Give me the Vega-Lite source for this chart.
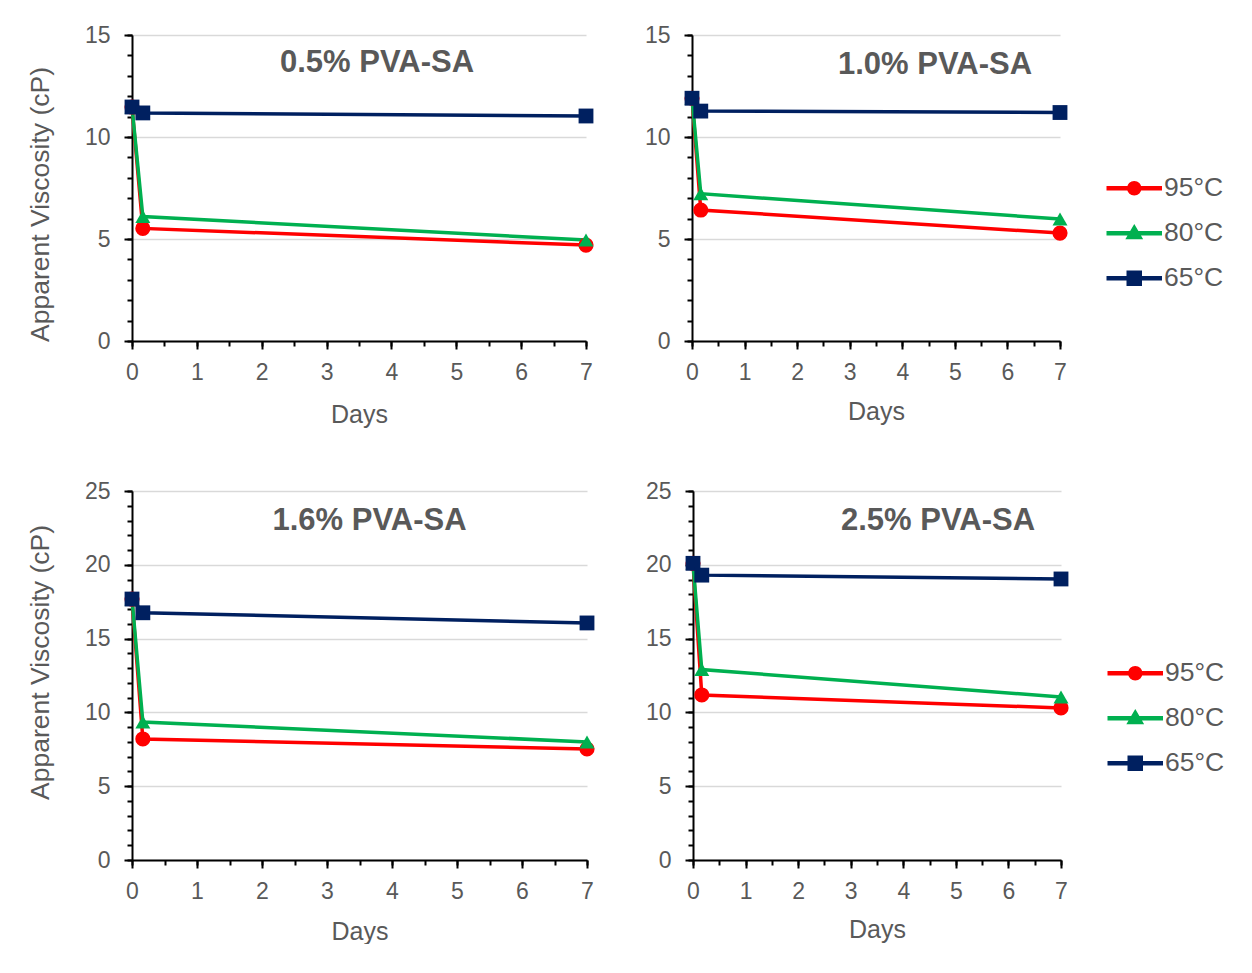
{
  "$schema": "https://vega.github.io/schema/vega-lite/v6.json",
  "padding": {"left": 27, "top": 24, "right": 0, "bottom": 0},
  "background": "white",
  "config": {
    "font": "Liberation Sans",
    "view": {"stroke": null},
    "axis": {
      "labelFont": "Liberation Sans", "titleFont": "Liberation Sans",
      "labelColor": "#595959", "titleColor": "#595959",
      "labelFontSize": 23, "titleFontSize": 25, "titleFontWeight": "normal",
      "domainColor": "#000000", "tickColor": "#000000",
      "domainWidth": 2, "tickWidth": 2, "labelFlush": false,
      "gridColor": "#d9d9d9", "gridWidth": 1.5
    },
    "title": {"font": "Liberation Sans", "fontSize": 31, "fontWeight": "bold", "color": "#595959", "anchor": "middle"}
  },
  "data": {"values": [
    {"panel": "A", "temp": "95°C", "day": 0, "visc": 11.47},
    {"panel": "A", "temp": "95°C", "day": 0.167, "visc": 5.52},
    {"panel": "A", "temp": "95°C", "day": 7, "visc": 4.70},
    {"panel": "A", "temp": "80°C", "day": 0, "visc": 11.47},
    {"panel": "A", "temp": "80°C", "day": 0.167, "visc": 6.1},
    {"panel": "A", "temp": "80°C", "day": 7, "visc": 4.95},
    {"panel": "A", "temp": "65°C", "day": 0, "visc": 11.47},
    {"panel": "A", "temp": "65°C", "day": 0.167, "visc": 11.18},
    {"panel": "A", "temp": "65°C", "day": 7, "visc": 11.03},
    {"panel": "B", "temp": "95°C", "day": 0, "visc": 11.9},
    {"panel": "B", "temp": "95°C", "day": 0.167, "visc": 6.42},
    {"panel": "B", "temp": "95°C", "day": 7, "visc": 5.29},
    {"panel": "B", "temp": "80°C", "day": 0, "visc": 11.9},
    {"panel": "B", "temp": "80°C", "day": 0.167, "visc": 7.22},
    {"panel": "B", "temp": "80°C", "day": 7, "visc": 5.98},
    {"panel": "B", "temp": "65°C", "day": 0, "visc": 11.9},
    {"panel": "B", "temp": "65°C", "day": 0.167, "visc": 11.27},
    {"panel": "B", "temp": "65°C", "day": 7, "visc": 11.2},
    {"panel": "C", "temp": "95°C", "day": 0, "visc": 17.68},
    {"panel": "C", "temp": "95°C", "day": 0.167, "visc": 8.2},
    {"panel": "C", "temp": "95°C", "day": 7, "visc": 7.52},
    {"panel": "C", "temp": "80°C", "day": 0, "visc": 17.68},
    {"panel": "C", "temp": "80°C", "day": 0.167, "visc": 9.35},
    {"panel": "C", "temp": "80°C", "day": 7, "visc": 8.0},
    {"panel": "C", "temp": "65°C", "day": 0, "visc": 17.68},
    {"panel": "C", "temp": "65°C", "day": 0.167, "visc": 16.75},
    {"panel": "C", "temp": "65°C", "day": 7, "visc": 16.06},
    {"panel": "D", "temp": "95°C", "day": 0, "visc": 20.1},
    {"panel": "D", "temp": "95°C", "day": 0.167, "visc": 11.18},
    {"panel": "D", "temp": "95°C", "day": 7, "visc": 10.3},
    {"panel": "D", "temp": "80°C", "day": 0, "visc": 20.1},
    {"panel": "D", "temp": "80°C", "day": 0.167, "visc": 12.9},
    {"panel": "D", "temp": "80°C", "day": 7, "visc": 11.04},
    {"panel": "D", "temp": "65°C", "day": 0, "visc": 20.1},
    {"panel": "D", "temp": "65°C", "day": 0.167, "visc": 19.3},
    {"panel": "D", "temp": "65°C", "day": 7, "visc": 19.04}
  ]},
  "spacing": 53,
  "resolve": {"scale": {"color": "independent", "shape": "independent", "size": "independent", "x": "independent", "y": "independent"}, "legend": {"color": "independent"}},
  "vconcat": [
    {
      "spacing": 50,
      "resolve": {"scale": {"color": "independent", "shape": "independent", "size": "independent", "x": "independent", "y": "independent"}, "legend": {"color": "independent"}},
      "hconcat": [
        {
          "width": 454, "height": 306,
          "title": {"text": "0.5% PVA-SA", "offset": -55, "dx": 18},
          "transform": [{"filter": "datum.panel === 'A'"}],
          "encoding": {
            "color": {"field": "temp", "type": "nominal", "scale": {"domain": ["95°C", "80°C", "65°C"], "range": ["#FF0000", "#00B050", "#002060"]}, "legend": null}
          },
          "layer": [
            {"mark": {"type": "line", "strokeWidth": 3.5},
             "encoding": {
               "x": {"field": "day", "type": "quantitative", "scale": {"domain": [0, 7], "nice": false}, "axis": {"orient": "bottom", "title": "Days", "values": [0, 1, 2, 3, 4, 5, 6, 7], "grid": false, "tickSize": 8, "labelPadding": 12, "titlePadding": 18}},
               "y": {"field": "visc", "type": "quantitative", "scale": {"domain": [0, 15], "nice": false}, "axis": {"orient": "left", "title": "Apparent Viscosity (cP)", "titleFontSize": 26.5, "titleY": 169, "values": [0, 5, 10, 15], "grid": true, "tickSize": 8, "labelPadding": 14, "titlePadding": 30}}
             }},
            {"mark": {"type": "point", "filled": true, "opacity": 1},
             "encoding": {
               "x": {"field": "day", "type": "quantitative", "axis": {"orient": "bottom", "title": null, "values": [0, 0.5, 1, 1.5, 2, 2.5, 3, 3.5, 4, 4.5, 5, 5.5, 6, 6.5, 7], "labels": false, "grid": false, "domain": false, "tickSize": 5}},
               "y": {"field": "visc", "type": "quantitative", "axis": {"orient": "left", "title": null, "values": [0, 1, 2, 3, 4, 5, 6, 7, 8, 9, 10, 11, 12, 13, 14, 15], "labels": false, "grid": false, "domain": false, "tickSize": 5}},
               "shape": {"field": "temp", "type": "nominal", "scale": {"domain": ["65°C", "80°C", "95°C"], "range": ["square", "triangle-up", "circle"]}, "legend": null},
               "size": {"field": "temp", "type": "ordinal", "scale": {"domain": ["65°C", "80°C", "95°C"], "range": [220, 230, 170]}, "legend": null}
             }}
          ],
          "resolve": {"axis": {"x": "independent", "y": "independent"}}
        },
        {
          "width": 368, "height": 306,
          "title": {"text": "1.0% PVA-SA", "offset": -57, "dx": 59},
          "transform": [{"filter": "datum.panel === 'B'"}],
          "encoding": {
            "color": {"field": "temp", "type": "nominal", "scale": {"domain": ["95°C", "80°C", "65°C"], "range": ["#FF0000", "#00B050", "#002060"]},
              "legend": {"orient": "none", "legendX": 415, "legendY": 140, "title": null, "padding": 0,
                "symbolSize": 400, "symbolOffset": 14, "labelOffset": 16.5,
                "labelFontSize": 26.5, "labelColor": "#595959", "labelFont": "Liberation Sans", "rowPadding": 18,
                "encode": {"symbols": {"update": {
                  "shape": {"signal": "datum.value === '95°C' ? 'M-2.7,-0.16H2.7V0.16H-2.7ZM0.65,0A0.65,0.65,0,1,1,-0.65,0A0.65,0.65,0,1,1,0.65,0Z' : datum.value === '80°C' ? 'M-2.7,-0.16H2.7V0.16H-2.7ZM0,-0.78L0.76,0.52L-0.76,0.52Z' : 'M-2.7,-0.16H2.7V0.16H-2.7ZM-0.7,-0.7H0.7V0.7H-0.7Z'"},
                  "fill": {"signal": "datum.value === '95°C' ? '#FF0000' : datum.value === '80°C' ? '#00B050' : '#002060'"},
                  "fillOpacity": {"value": 1},
                  "opacity": {"value": 1}
                }}}
              }}
          },
          "layer": [
            {"mark": {"type": "line", "strokeWidth": 3.5},
             "encoding": {
               "x": {"field": "day", "type": "quantitative", "scale": {"domain": [0, 7], "nice": false}, "axis": {"orient": "bottom", "title": "Days", "values": [0, 1, 2, 3, 4, 5, 6, 7], "grid": false, "tickSize": 8, "labelPadding": 12, "titlePadding": 15}},
               "y": {"field": "visc", "type": "quantitative", "scale": {"domain": [0, 15], "nice": false}, "axis": {"orient": "left", "title": null, "values": [0, 5, 10, 15], "grid": true, "tickSize": 8, "labelPadding": 14}}
             }},
            {"mark": {"type": "point", "filled": true, "opacity": 1},
             "encoding": {
               "x": {"field": "day", "type": "quantitative", "axis": {"orient": "bottom", "title": null, "values": [0, 0.5, 1, 1.5, 2, 2.5, 3, 3.5, 4, 4.5, 5, 5.5, 6, 6.5, 7], "labels": false, "grid": false, "domain": false, "tickSize": 5}},
               "y": {"field": "visc", "type": "quantitative", "axis": {"orient": "left", "title": null, "values": [0, 1, 2, 3, 4, 5, 6, 7, 8, 9, 10, 11, 12, 13, 14, 15], "labels": false, "grid": false, "domain": false, "tickSize": 5}},
               "shape": {"field": "temp", "type": "nominal", "scale": {"domain": ["65°C", "80°C", "95°C"], "range": ["square", "triangle-up", "circle"]}, "legend": null},
               "size": {"field": "temp", "type": "ordinal", "scale": {"domain": ["65°C", "80°C", "95°C"], "range": [220, 230, 170]}, "legend": null}
             }}
          ],
          "resolve": {"axis": {"x": "independent", "y": "independent"}}
        }
      ]
    },
    {
      "spacing": 50,
      "resolve": {"scale": {"color": "independent", "shape": "independent", "size": "independent", "x": "independent", "y": "independent"}, "legend": {"color": "independent"}},
      "hconcat": [
        {
          "width": 455, "height": 369,
          "title": {"text": "1.6% PVA-SA", "offset": -57, "dx": 10},
          "transform": [{"filter": "datum.panel === 'C'"}],
          "encoding": {
            "color": {"field": "temp", "type": "nominal", "scale": {"domain": ["95°C", "80°C", "65°C"], "range": ["#FF0000", "#00B050", "#002060"]}, "legend": null}
          },
          "layer": [
            {"mark": {"type": "line", "strokeWidth": 3.5},
             "encoding": {
               "x": {"field": "day", "type": "quantitative", "scale": {"domain": [0, 7], "nice": false}, "axis": {"orient": "bottom", "title": "Days", "values": [0, 1, 2, 3, 4, 5, 6, 7], "grid": false, "tickSize": 8, "labelPadding": 12, "titlePadding": 16}},
               "y": {"field": "visc", "type": "quantitative", "scale": {"domain": [0, 25], "nice": false}, "axis": {"orient": "left", "title": "Apparent Viscosity (cP)", "titleFontSize": 26.5, "titleY": 171, "values": [0, 5, 10, 15, 20, 25], "grid": true, "tickSize": 8, "labelPadding": 14, "titlePadding": 30}}
             }},
            {"mark": {"type": "point", "filled": true, "opacity": 1},
             "encoding": {
               "x": {"field": "day", "type": "quantitative", "axis": {"orient": "bottom", "title": null, "values": [0, 0.5, 1, 1.5, 2, 2.5, 3, 3.5, 4, 4.5, 5, 5.5, 6, 6.5, 7], "labels": false, "grid": false, "domain": false, "tickSize": 5}},
               "y": {"field": "visc", "type": "quantitative", "axis": {"orient": "left", "title": null, "values": [0, 1, 2, 3, 4, 5, 6, 7, 8, 9, 10, 11, 12, 13, 14, 15, 16, 17, 18, 19, 20, 21, 22, 23, 24, 25], "labels": false, "grid": false, "domain": false, "tickSize": 5}},
               "shape": {"field": "temp", "type": "nominal", "scale": {"domain": ["65°C", "80°C", "95°C"], "range": ["square", "triangle-up", "circle"]}, "legend": null},
               "size": {"field": "temp", "type": "ordinal", "scale": {"domain": ["65°C", "80°C", "95°C"], "range": [220, 230, 170]}, "legend": null}
             }}
          ],
          "resolve": {"axis": {"x": "independent", "y": "independent"}}
        },
        {
          "width": 368, "height": 369,
          "title": {"text": "2.5% PVA-SA", "offset": -57, "dx": 61},
          "transform": [{"filter": "datum.panel === 'D'"}],
          "encoding": {
            "color": {"field": "temp", "type": "nominal", "scale": {"domain": ["95°C", "80°C", "65°C"], "range": ["#FF0000", "#00B050", "#002060"]},
              "legend": {"orient": "none", "legendX": 415, "legendY": 169, "title": null, "padding": 0,
                "symbolSize": 400, "symbolOffset": 14, "labelOffset": 16.5,
                "labelFontSize": 26.5, "labelColor": "#595959", "labelFont": "Liberation Sans", "rowPadding": 18,
                "encode": {"symbols": {"update": {
                  "shape": {"signal": "datum.value === '95°C' ? 'M-2.7,-0.16H2.7V0.16H-2.7ZM0.65,0A0.65,0.65,0,1,1,-0.65,0A0.65,0.65,0,1,1,0.65,0Z' : datum.value === '80°C' ? 'M-2.7,-0.16H2.7V0.16H-2.7ZM0,-0.78L0.76,0.52L-0.76,0.52Z' : 'M-2.7,-0.16H2.7V0.16H-2.7ZM-0.7,-0.7H0.7V0.7H-0.7Z'"},
                  "fill": {"signal": "datum.value === '95°C' ? '#FF0000' : datum.value === '80°C' ? '#00B050' : '#002060'"},
                  "fillOpacity": {"value": 1},
                  "opacity": {"value": 1}
                }}}
              }}
          },
          "layer": [
            {"mark": {"type": "line", "strokeWidth": 3.5},
             "encoding": {
               "x": {"field": "day", "type": "quantitative", "scale": {"domain": [0, 7], "nice": false}, "axis": {"orient": "bottom", "title": "Days", "values": [0, 1, 2, 3, 4, 5, 6, 7], "grid": false, "tickSize": 8, "labelPadding": 12, "titlePadding": 14}},
               "y": {"field": "visc", "type": "quantitative", "scale": {"domain": [0, 25], "nice": false}, "axis": {"orient": "left", "title": null, "values": [0, 5, 10, 15, 20, 25], "grid": true, "tickSize": 8, "labelPadding": 14}}
             }},
            {"mark": {"type": "point", "filled": true, "opacity": 1},
             "encoding": {
               "x": {"field": "day", "type": "quantitative", "axis": {"orient": "bottom", "title": null, "values": [0, 0.5, 1, 1.5, 2, 2.5, 3, 3.5, 4, 4.5, 5, 5.5, 6, 6.5, 7], "labels": false, "grid": false, "domain": false, "tickSize": 5}},
               "y": {"field": "visc", "type": "quantitative", "axis": {"orient": "left", "title": null, "values": [0, 1, 2, 3, 4, 5, 6, 7, 8, 9, 10, 11, 12, 13, 14, 15, 16, 17, 18, 19, 20, 21, 22, 23, 24, 25], "labels": false, "grid": false, "domain": false, "tickSize": 5}},
               "shape": {"field": "temp", "type": "nominal", "scale": {"domain": ["65°C", "80°C", "95°C"], "range": ["square", "triangle-up", "circle"]}, "legend": null},
               "size": {"field": "temp", "type": "ordinal", "scale": {"domain": ["65°C", "80°C", "95°C"], "range": [220, 230, 170]}, "legend": null}
             }}
          ],
          "resolve": {"axis": {"x": "independent", "y": "independent"}}
        }
      ]
    }
  ]
}
